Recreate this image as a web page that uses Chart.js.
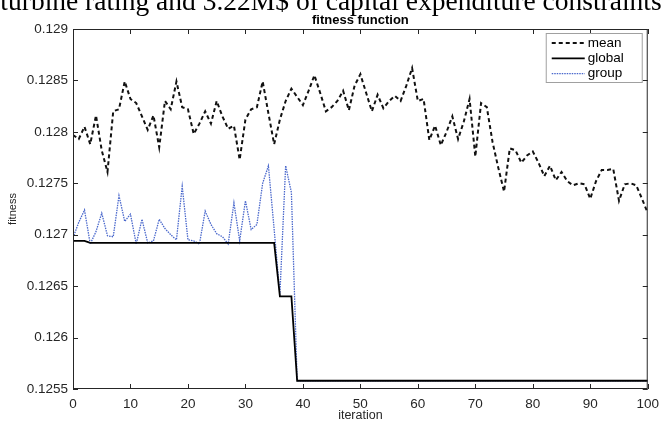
<!DOCTYPE html>
<html>
<head>
<meta charset="utf-8">
<script src="https://cdn.jsdelivr.net/npm/chart.js@4.4.1/dist/chart.umd.min.js"></script>
<style>
    html, body { margin: 0; padding: 0; background: #fff; }
    #wrap { position: relative; width: 666px; height: 423px; overflow: hidden; }
    #fitnessChart { position: absolute; left: 0; top: 0; }
    #caption {
        position: absolute; left: -60px; width: 782px; top: -14px;
        text-align: center; white-space: nowrap;
        font: 27.5px/30px "Liberation Serif", serif; color: #000;
    }
</style>
</head>
<body>
<div id="wrap">
    <canvas id="fitnessChart" width="666" height="423"></canvas>
    <div id="caption">turbine rating and 3.22M$ of capital expenditure constraints</div>
</div>
<script>
// Итерации и значения функции приспособленности
const iterations = [
    0, 1, 2, 3, 4, 5, 6, 7, 8, 9, 10, 11, 12, 13, 14, 15, 16, 17, 18, 19, 20,
    21, 22, 23, 24, 25, 26, 27, 28, 29, 30, 31, 32, 33, 34, 35, 36, 37, 38, 39, 40,
    41, 42, 43, 44, 45, 46, 47, 48, 49, 50, 51, 52, 53, 54, 55, 56, 57, 58, 59, 60,
    61, 62, 63, 64, 65, 66, 67, 68, 69, 70, 71, 72, 73, 74, 75, 76, 77, 78, 79, 80,
    81, 82, 83, 84, 85, 86, 87, 88, 89, 90, 91, 92, 93, 94, 95, 96, 97, 98, 99, 100
];

const meanFitness = [
    0.12797, 0.12793, 0.12805, 0.12788, 0.12816, 0.12782, 0.12761, 0.12820, 0.12822, 0.12849,
    0.12832, 0.12828, 0.12815, 0.12802, 0.12816, 0.12785, 0.12830, 0.12822, 0.12849, 0.12824,
    0.12822, 0.12798, 0.12808, 0.12820, 0.12808, 0.12830, 0.12815, 0.12803, 0.12806, 0.12773,
    0.12812, 0.12822, 0.12824, 0.12849, 0.12818, 0.12788, 0.12812, 0.12830, 0.12842, 0.12834,
    0.12826, 0.12840, 0.12855, 0.12838, 0.12820, 0.12824, 0.12830, 0.12840, 0.12821, 0.12845,
    0.12856, 0.12838, 0.12820, 0.12836, 0.12823, 0.12830, 0.12835, 0.12830, 0.12845, 0.12862,
    0.12830, 0.12832, 0.12792, 0.12806, 0.12787, 0.12800, 0.12815, 0.12793, 0.12810, 0.12832,
    0.12776, 0.12828, 0.12824, 0.12790, 0.12765, 0.12742, 0.12784, 0.12782, 0.12770, 0.12777,
    0.12781, 0.12770, 0.12757, 0.12767, 0.12753, 0.12761, 0.12752, 0.12748, 0.12750, 0.12749,
    0.12735, 0.12752, 0.12763, 0.12763, 0.12764, 0.12733, 0.12749, 0.12750, 0.12748, 0.12735,
    0.12721
];

const globalFitness = [
    0.12694, 0.12694, 0.12694, 0.12692, 0.12692, 0.12692, 0.12692, 0.12692, 0.12692, 0.12692,
    0.12692, 0.12692, 0.12692, 0.12692, 0.12692, 0.12692, 0.12692, 0.12692, 0.12692, 0.12692,
    0.12692, 0.12692, 0.12692, 0.12692, 0.12692, 0.12692, 0.12692, 0.12692, 0.12692, 0.12692,
    0.12692, 0.12692, 0.12692, 0.12692, 0.12692, 0.12692, 0.12640, 0.12640, 0.12640, 0.12558,
    0.12558, 0.12558, 0.12558, 0.12558, 0.12558, 0.12558, 0.12558, 0.12558, 0.12558, 0.12558,
    0.12558, 0.12558, 0.12558, 0.12558, 0.12558, 0.12558, 0.12558, 0.12558, 0.12558, 0.12558,
    0.12558, 0.12558, 0.12558, 0.12558, 0.12558, 0.12558, 0.12558, 0.12558, 0.12558, 0.12558,
    0.12558, 0.12558, 0.12558, 0.12558, 0.12558, 0.12558, 0.12558, 0.12558, 0.12558, 0.12558,
    0.12558, 0.12558, 0.12558, 0.12558, 0.12558, 0.12558, 0.12558, 0.12558, 0.12558, 0.12558,
    0.12558, 0.12558, 0.12558, 0.12558, 0.12558, 0.12558, 0.12558, 0.12558, 0.12558, 0.12558,
    0.12558
];

const groupFitness = [
    0.12697, 0.12712, 0.12724, 0.12691, 0.12703, 0.12721, 0.12699, 0.12698, 0.12738, 0.12713,
    0.12720, 0.12691, 0.12715, 0.12692, 0.12694, 0.12715, 0.12706, 0.12700, 0.12695, 0.12747,
    0.12695, 0.12694, 0.12691, 0.12723, 0.12710, 0.12701, 0.12698, 0.12691, 0.12731, 0.12694,
    0.12733, 0.12705, 0.12710, 0.12750, 0.12767, 0.12705, 0.12642, 0.12767, 0.12741, 0.12558,
    0.12558, 0.12558, 0.12558, 0.12558, 0.12558, 0.12558, 0.12558, 0.12558, 0.12558, 0.12558,
    0.12558, 0.12558, 0.12558, 0.12558, 0.12558, 0.12558, 0.12558, 0.12558, 0.12558, 0.12558,
    0.12558, 0.12558, 0.12558, 0.12558, 0.12558, 0.12558, 0.12558, 0.12558, 0.12558, 0.12558,
    0.12558, 0.12558, 0.12558, 0.12558, 0.12558, 0.12558, 0.12558, 0.12558, 0.12558, 0.12558,
    0.12558, 0.12558, 0.12558, 0.12558, 0.12558, 0.12558, 0.12558, 0.12558, 0.12558, 0.12558,
    0.12558, 0.12558, 0.12558, 0.12558, 0.12558, 0.12558, 0.12558, 0.12558, 0.12558, 0.12558,
    0.12558
];

// Деления осей
const xTicks = [0, 10, 20, 30, 40, 50, 60, 70, 80, 90, 100];
const yTicks = [0.1255, 0.126, 0.1265, 0.127, 0.1275, 0.128, 0.1285, 0.129];
const yTickLabels = ['0.1255', '0.126', '0.1265', '0.127', '0.1275', '0.128', '0.1285', '0.129'];

const axisColor = '#262626';
const fontFamily = 'Arial, "Liberation Sans", sans-serif';

function toPoints(values) {
    return iterations.map((it, k) => ({ x: it, y: values[k] }));
}

// Рамка осей и внутренние засечки, как в MATLAB
const axesBox = {
    id: 'axesBox',
    afterDatasetsDraw(chart) {
        const { ctx, chartArea: a, scales } = chart;
        const len = 5;
        ctx.save();
        ctx.strokeStyle = axisColor;
        ctx.lineWidth = 1;
        ctx.strokeRect(a.left + 0.5, a.top + 0.5, a.right - a.left - 1, a.bottom - a.top - 1);
        ctx.beginPath();
        xTicks.forEach(v => {
            const px = Math.round(scales.x.getPixelForValue(v)) + 0.5;
            ctx.moveTo(px, a.bottom); ctx.lineTo(px, a.bottom - len);
            ctx.moveTo(px, a.top); ctx.lineTo(px, a.top + len);
        });
        yTicks.forEach(v => {
            const py = Math.round(scales.y.getPixelForValue(v)) + 0.5;
            ctx.moveTo(a.left, py); ctx.lineTo(a.left + len, py);
            ctx.moveTo(a.right, py); ctx.lineTo(a.right - len, py);
        });
        ctx.stroke();
        ctx.restore();
    }
};

// Заголовок над областью графика
const plotTitle = {
    id: 'plotTitle',
    afterDraw(chart) {
        const { ctx, chartArea: a } = chart;
        ctx.save();
        ctx.fillStyle = '#000';
        ctx.font = 'bold 13px ' + fontFamily;
        ctx.textAlign = 'center';
        ctx.textBaseline = 'middle';
        ctx.fillText('fitness function', (a.left + a.right) / 2, a.top - 9);
        ctx.restore();
    }
};

// Легенда в правом верхнем углу в рамке
const legendBox = {
    id: 'legendBox',
    afterDraw(chart) {
        const { ctx, chartArea: a } = chart;
        const w = 96, h = 49;
        const left = a.right - 6 - w, top = a.top + 4;
        ctx.save();
        ctx.fillStyle = '#fff';
        ctx.fillRect(left, top, w, h);
        ctx.strokeStyle = '#a0a0a0';
        ctx.lineWidth = 1;
        ctx.strokeRect(left + 0.5, top + 0.5, w, h);
        ctx.font = '13.5px ' + fontFamily;
        ctx.textBaseline = 'middle';
        ctx.textAlign = 'left';
        chart.data.datasets.forEach((ds, i) => {
            const y = top + 10 + i * 15.3;
            ctx.beginPath();
            ctx.strokeStyle = ds.borderColor;
            ctx.lineWidth = ds.borderWidth;
            ctx.setLineDash(ds.borderDash || []);
            ctx.moveTo(left + 6, y);
            ctx.lineTo(left + 39, y);
            ctx.stroke();
            ctx.setLineDash([]);
            ctx.fillStyle = '#000';
            ctx.fillText(ds.label, left + 42, y);
        });
        ctx.restore();
    }
};

const ctx = document.getElementById('fitnessChart').getContext('2d');

new Chart(ctx, {
    type: 'line',
    data: {
        datasets: [
            {
                label: 'mean',
                data: toPoints(meanFitness),
                borderColor: '#111',
                borderWidth: 2,
                borderDash: [4, 3],
                pointRadius: 0,
                tension: 0
            },
            {
                label: 'global',
                data: toPoints(globalFitness),
                borderColor: '#000',
                borderWidth: 1.8,
                pointRadius: 0,
                tension: 0
            },
            {
                label: 'group',
                data: toPoints(groupFitness),
                borderColor: '#4a68cc',
                borderWidth: 1.3,
                borderDash: [1.5, 1],
                pointRadius: 0,
                tension: 0
            }
        ]
    },
    options: {
        responsive: false,
        animation: false,
        layout: { padding: { top: 29, right: 13, left: 0, bottom: 0 } },
        plugins: {
            legend: { display: false },
            title: { display: false },
            tooltip: { enabled: false }
        },
        scales: {
            x: {
                type: 'linear',
                min: 0,
                max: 100,
                grid: { display: false, drawTicks: false },
                border: { display: false },
                afterBuildTicks: scale => { scale.ticks = xTicks.map(v => ({ value: v })); },
                afterFit: scale => { scale.height = 34; },
                ticks: {
                    padding: 7,
                    maxRotation: 0,
                    color: axisColor,
                    font: { family: fontFamily, size: 13.5 },
                    callback: v => String(v)
                },
                title: {
                    display: true,
                    text: 'iteration',
                    color: axisColor,
                    padding: { top: 0, bottom: 0 },
                    font: { family: fontFamily, size: 12.5 }
                }
            },
            y: {
                type: 'linear',
                min: 0.1255,
                max: 0.129,
                grid: { display: false, drawTicks: false },
                border: { display: false },
                afterBuildTicks: scale => { scale.ticks = yTicks.map(v => ({ value: v })); },
                afterFit: scale => { scale.width = 73; },
                ticks: {
                    padding: 5,
                    color: axisColor,
                    font: { family: fontFamily, size: 13.5 },
                    callback: (v, i) => yTickLabels[i]
                },
                title: {
                    display: true,
                    text: 'fitness',
                    color: axisColor,
                    padding: { top: 6, bottom: 0 },
                    font: { family: fontFamily, size: 11 }
                }
            }
        }
    },
    plugins: [axesBox, plotTitle, legendBox]
});
</script>
</body>
</html>
